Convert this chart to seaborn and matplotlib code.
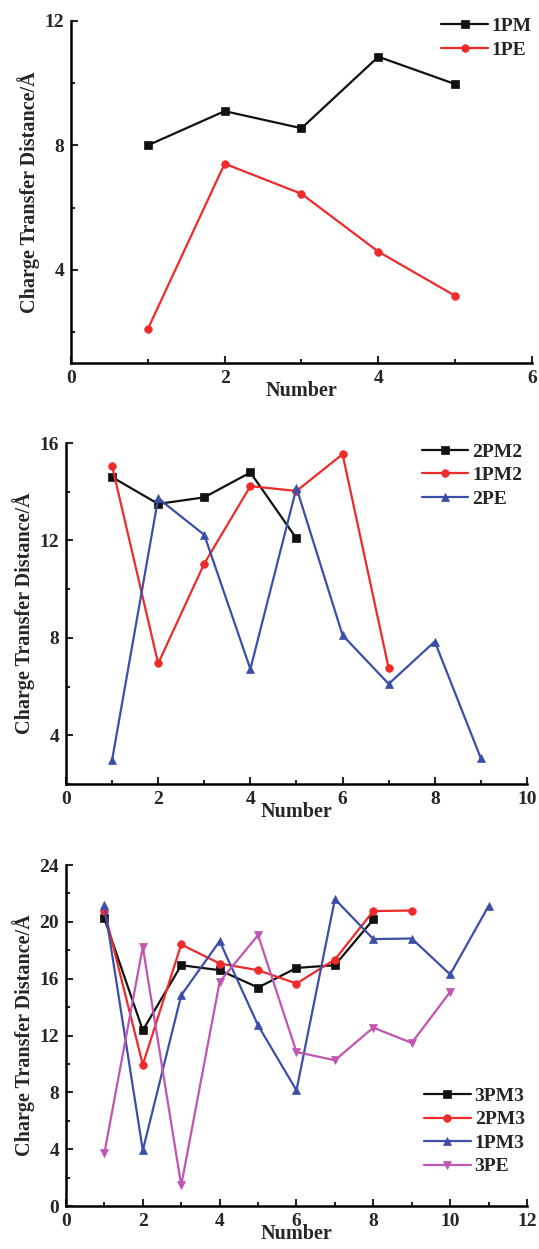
import matplotlib
matplotlib.use("Agg")
import matplotlib.pyplot as plt
from matplotlib.ticker import MultipleLocator, AutoMinorLocator
import seaborn as sns

# panel 1
p1_x = [1, 2, 3, 4, 5]
p1_1pm = [8.0, 9.1, 8.55, 10.85, 9.97]
p1_1pe = [2.09, 7.41, 6.44, 4.58, 3.16]

# panel 2
p2_2pm2_x = [1, 2, 3, 4, 5]
p2_2pm2 = [14.6, 13.5, 13.77, 14.79, 12.08]
p2_1pm2_x = [1, 2, 3, 4, 5, 6, 7]
p2_1pm2 = [15.06, 6.95, 11.05, 14.23, 14.03, 15.54, 6.75]
p2_2pe_x = [1, 2, 3, 4, 5, 6, 7, 8, 9]
p2_2pe = [2.98, 13.73, 12.23, 6.72, 14.16, 8.11, 6.11, 7.85, 3.05]

# panel 3
p3_3pm3_x = [1, 2, 3, 4, 5, 6, 7, 8]
p3_3pm3 = [20.24, 12.37, 16.95, 16.6, 15.38, 16.76, 16.95, 20.17]
p3_2pm3_x = [1, 2, 3, 4, 5, 6, 7, 8, 9]
p3_2pm3 = [20.76, 9.95, 18.41, 17.07, 16.6, 15.66, 17.35, 20.76, 20.8]
p3_1pm3_x = [1, 2, 3, 4, 5, 6, 7, 8, 9, 10, 11]
p3_1pm3 = [21.18, 3.92, 14.84, 18.64, 12.72, 8.14, 21.6, 18.79, 18.83, 16.3, 21.11]
p3_3pe_x = [1, 2, 3, 4, 5, 6, 7, 8, 9, 10]
p3_3pe = [3.73, 18.24, 1.45, 15.78, 19.07, 10.84, 10.26, 12.56, 11.48, 15.07]

black = "#111111"
red = "#ee2a2a"
blue = "#3b4fa8"
magenta = "#c055b2"

sns.set_style("ticks")
plt.rcParams['font.family'] = ['Liberation Serif', 'DejaVu Serif']
plt.rcParams['font.weight'] = 'bold'

fig = plt.figure(figsize=(5.39, 12.49), dpi=100)
ax1 = fig.add_axes([0.1317, 0.7094, 0.8553, 0.2738])
ax2 = fig.add_axes([0.1224, 0.3723, 0.8553, 0.273])
ax3 = fig.add_axes([0.1224, 0.0344, 0.8553, 0.273])


def draw(ax, x, y, marker, color, label):
    sns.lineplot(x=x, y=y, ax=ax, marker=marker, color=color, label=label,
                 linewidth=1.6, markersize=5.5, markeredgewidth=0.5,
                 markeredgecolor=color, clip_on=False)


draw(ax1, p1_x, p1_1pm, 's', black, '1PM')
draw(ax1, p1_x, p1_1pe, 'o', red, '1PE')

draw(ax2, p2_2pm2_x, p2_2pm2, 's', black, '2PM2')
draw(ax2, p2_1pm2_x, p2_1pm2, 'o', red, '1PM2')
draw(ax2, p2_2pe_x, p2_2pe, '^', blue, '2PE')

draw(ax3, p3_3pm3_x, p3_3pm3, 's', black, '3PM3')
draw(ax3, p3_2pm3_x, p3_2pm3, 'o', red, '2PM3')
draw(ax3, p3_1pm3_x, p3_1pm3, '^', blue, '1PM3')
draw(ax3, p3_3pe_x, p3_3pe, 'v', magenta, '3PE')

settings = [
    (ax1, (0, 6), 2, (1, 12), 4, 'upper right', (1.0, 1.01)),
    (ax2, (0, 10), 2, (2, 16), 4, 'upper right', (0.99, 1.0)),
    (ax3, (0, 12), 2, (0, 24), 4, 'lower right', (0.995, 0.09)),
]

for ax, xl, xs, yl, ys, loc, anchor in settings:
    ax.set_xlim(*xl)
    ax.set_ylim(*yl)
    ax.xaxis.set_major_locator(MultipleLocator(xs))
    ax.yaxis.set_major_locator(MultipleLocator(ys))
    ax.xaxis.set_minor_locator(AutoMinorLocator(2))
    ax.yaxis.set_minor_locator(AutoMinorLocator(2))
    ax.tick_params(which='major', direction='in', length=5, width=1.5,
                   labelsize=14, pad=5)
    ax.tick_params(which='minor', direction='in', length=3, width=1.5)
    for lab in ax.get_xticklabels() + ax.get_yticklabels():
        lab.set_fontweight('bold')
    sns.despine(ax=ax)
    for s in ['left', 'bottom']:
        ax.spines[s].set_linewidth(1.8)
        ax.spines[s].set_color('black')
    ax.set_xlabel('Number', fontsize=14.5, fontweight='bold', labelpad=-4)
    ax.set_ylabel('Charge Transfer Distance/Å', fontsize=14.5,
                  fontweight='bold', labelpad=3)
    ax.legend(loc=loc, bbox_to_anchor=anchor, frameon=False,
              handlelength=2.4, handletextpad=0.2, labelspacing=0.3,
              borderaxespad=0, borderpad=0,
              prop={'weight': 'bold', 'size': 14})

fig.savefig('out.png', dpi=100)
